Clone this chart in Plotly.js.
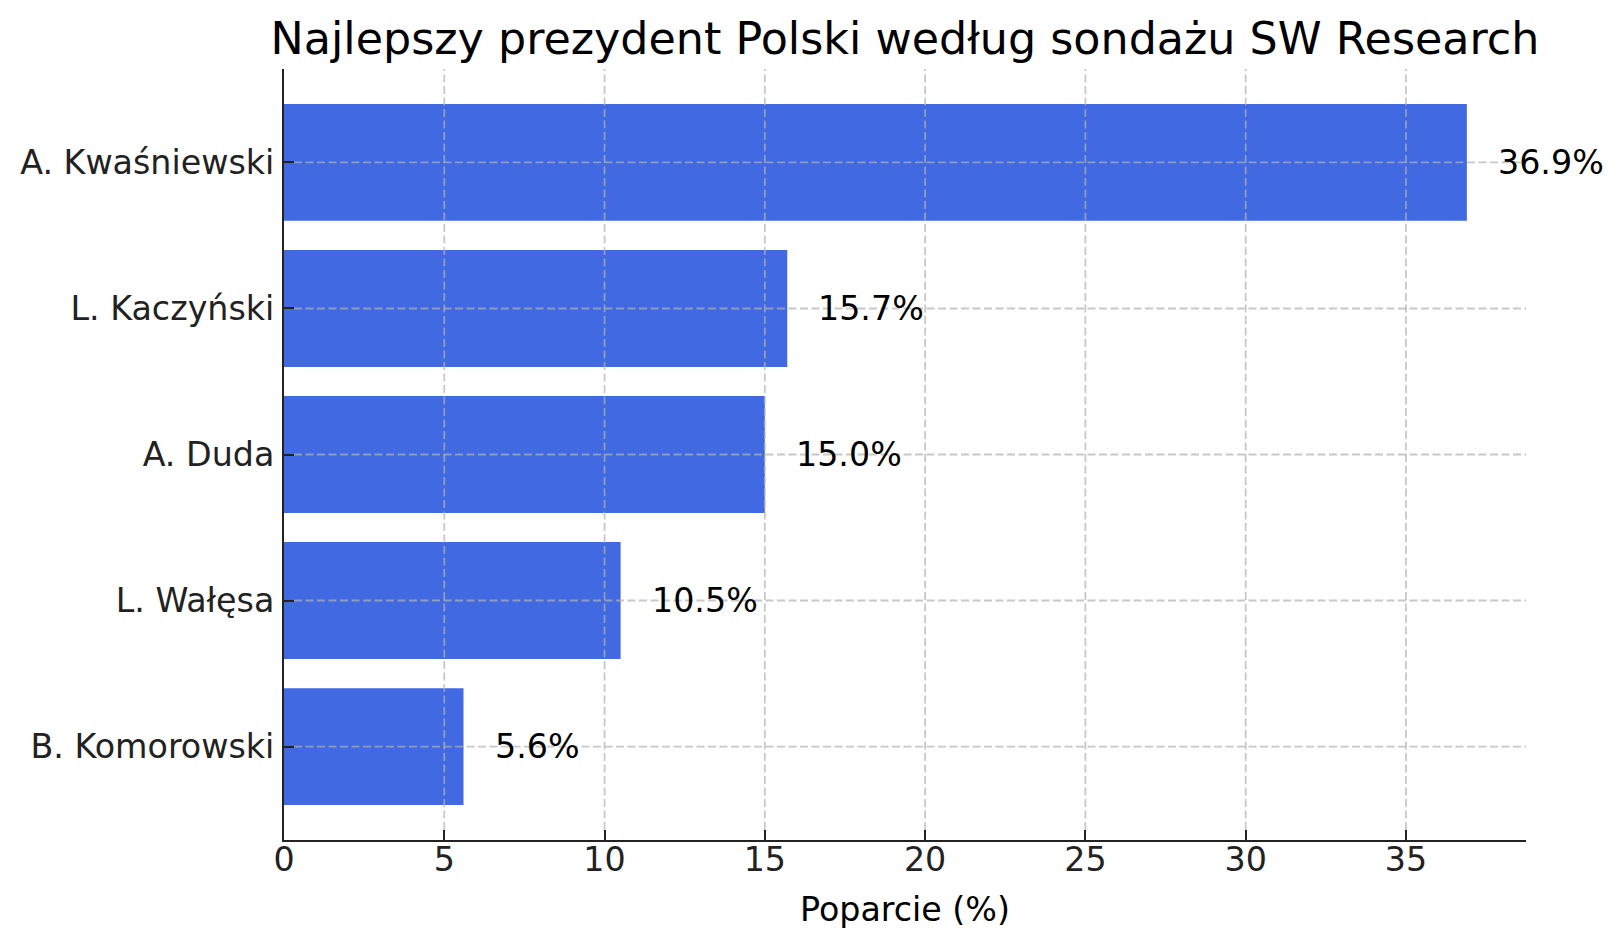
<!DOCTYPE html>
<html>
<head>
<meta charset="utf-8">
<script src="https://cdn.plot.ly/plotly-3.0.1.min.js"></script>
<style>html,body{margin:0;padding:0;background:#fff;}#chart{width:1623px;height:947px;}</style>
</head>
<body>
<div id="chart"></div>
<script>
// Data
const presidents = ['A. Kwaśniewski', 'L. Kaczyński', 'A. Duda', 'L. Wałęsa', 'B. Komorowski'];
const support = [36.9, 15.7, 15.0, 10.5, 5.6];
const xTickValues = [0, 5, 10, 15, 20, 25, 30, 35];
const chartTitle = 'Najlepszy prezydent Polski według sondażu SW Research';
const xAxisTitle = 'Poparcie (%)';

const FONT = 'DejaVu Sans, sans-serif';
const gridStyle = {color: 'rgba(176,176,176,0.7)', width: 1.8, dash: '8px,3.5px'};
const PLOT_W = 1623 - 284 - 97;
const PLOT_H = 947 - 69 - 107;
const TICKLEN = 10;

const trace = {
  type: 'bar',
  orientation: 'h',
  x: support,
  y: presidents,
  width: 0.8,
  marker: {color: '#4169E1', line: {width: 0}},
  hoverinfo: 'skip'
};

const maxVal = Math.max(...support);

const shapes = [];
xTickValues.forEach(v => {
  if (v === 0) return;
  shapes.push({type: 'line', layer: 'above', xref: 'x', yref: 'paper', x0: v, x1: v, y0: TICKLEN / PLOT_H, y1: 1, line: gridStyle});
});
presidents.forEach(p => {
  shapes.push({type: 'line', layer: 'above', xref: 'paper', yref: 'y', x0: TICKLEN / PLOT_W, x1: 1, y0: p, y1: p, line: gridStyle});
});

const annotations = presidents.map((p, i) => ({
  x: support[i] + 1,
  y: p,
  xref: 'x', yref: 'y',
  xshift: -3,
  text: support[i].toFixed(1) + '%',
  showarrow: false,
  xanchor: 'left',
  yanchor: 'middle',
  font: {family: FONT, size: 33.3, color: '#000'}
}));

const layout = {
  width: 1623,
  height: 947,
  margin: {l: 284, r: 97, t: 69, b: 107, pad: 0},
  paper_bgcolor: '#fff',
  plot_bgcolor: '#fff',
  showlegend: false,
  title: {
    text: chartTitle,
    font: {family: FONT, size: 44.4, color: '#000'},
    x: 0.5, xref: 'paper', xanchor: 'center',
    y: 1 - 38.8 / 947, yref: 'container', yanchor: 'middle'
  },
  xaxis: {
    range: [0, maxVal * 1.05],
    tickvals: xTickValues,
    ticktext: xTickValues.map(String),
    showgrid: false,
    zeroline: false,
    showline: true,
    linecolor: '#222',
    linewidth: 2,
    ticks: 'inside',
    ticklen: TICKLEN,
    tickwidth: 2,
    tickcolor: '#222',
    tickfont: {family: FONT, size: 33.3, color: '#222'},
    ticklabelstandoff: -11,
    layer: 'above traces',
    fixedrange: true,
    title: {text: xAxisTitle, font: {family: FONT, size: 33.3, color: '#000'}, standoff: 20}
  },
  yaxis: {
    type: 'category',
    categoryorder: 'array',
    categoryarray: presidents,
    range: [4.64, -0.64],
    showgrid: false,
    zeroline: false,
    showline: true,
    linecolor: '#222',
    linewidth: 2,
    ticks: 'inside',
    ticklen: TICKLEN,
    tickwidth: 2,
    tickcolor: '#222',
    tickfont: {family: FONT, size: 33.3, color: '#222'},
    ticklabelstandoff: 1,
    layer: 'above traces',
    fixedrange: true
  },
  shapes: shapes,
  annotations: annotations
};

Plotly.newPlot('chart', [trace], layout, {displayModeBar: false, staticPlot: true});
</script>
</body>
</html>
